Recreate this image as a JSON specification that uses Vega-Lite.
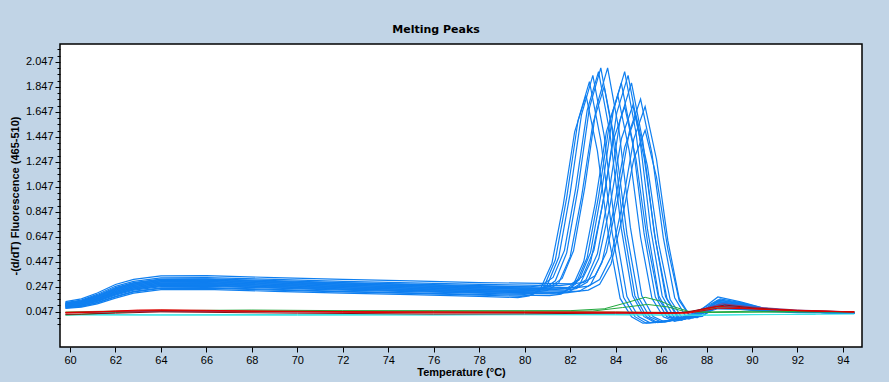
{
"$schema":"https://vega.github.io/schema/vega-lite/v6.json",
"width":802,"height":303,
"autosize":{"type":"none"},
"padding":{"left":60,"top":44,"right":27,"bottom":35},
"background":"#C1D4E6",
"title":{"text":"Melting Peaks","font":"DejaVu Sans","fontSize":11,"fontWeight":"bold","color":"black","anchor":"middle","frame":"group","dx":-25,"offset":9},
"datasets":{
"samples":[
{"s":"A1","t":59.8,"y":0.100},{"s":"A1","t":60.5,"y":0.116},{"s":"A1","t":61.2,"y":0.153},{"s":"A1","t":62,"y":0.21},{"s":"A1","t":62.8,"y":0.25},{"s":"A1","t":64,"y":0.278},{"s":"A1","t":66,"y":0.28},{"s":"A1","t":69,"y":0.265},{"s":"A1","t":72,"y":0.25},{"s":"A1","t":75,"y":0.238},{"s":"A1","t":78,"y":0.225},{"s":"A1","t":80.35,"y":0.215},{"s":"A1","t":80.85,"y":0.229},{"s":"A1","t":81.35,"y":0.294},{"s":"A1","t":81.85,"y":0.518},{"s":"A1","t":82.35,"y":1.036},{"s":"A1","t":82.85,"y":1.679},{"s":"A1","t":83.35,"y":2.0},{"s":"A1","t":83.85,"y":1.5},{"s":"A1","t":84.35,"y":0.72},{"s":"A1","t":84.85,"y":0.175},{"s":"A1","t":85.35,"y":0.008},{"s":"A1","t":85.85,"y":-0.04},{"s":"A1","t":86.8,"y":-0.01},{"s":"A1","t":87.5,"y":0.03},{"s":"A1","t":88.5,"y":0.12},{"s":"A1","t":89.5,"y":0.095},{"s":"A1","t":90.5,"y":0.065},{"s":"A1","t":92,"y":0.045},{"s":"A1","t":94.5,"y":0.035},
{"s":"A2","t":59.8,"y":0.110},{"s":"A2","t":60.5,"y":0.128},{"s":"A2","t":61.2,"y":0.169},{"s":"A2","t":62,"y":0.23},{"s":"A2","t":62.8,"y":0.27},{"s":"A2","t":64,"y":0.298},{"s":"A2","t":66,"y":0.30},{"s":"A2","t":69,"y":0.285},{"s":"A2","t":72,"y":0.27},{"s":"A2","t":75,"y":0.258},{"s":"A2","t":78,"y":0.245},{"s":"A2","t":80.65,"y":0.235},{"s":"A2","t":81.15,"y":0.249},{"s":"A2","t":81.65,"y":0.313},{"s":"A2","t":82.15,"y":0.535},{"s":"A2","t":82.65,"y":1.047},{"s":"A2","t":83.15,"y":1.682},{"s":"A2","t":83.65,"y":2.0},{"s":"A2","t":84.15,"y":1.5},{"s":"A2","t":84.65,"y":0.724},{"s":"A2","t":85.15,"y":0.176},{"s":"A2","t":85.65,"y":0.008},{"s":"A2","t":86.15,"y":-0.035},{"s":"A2","t":86.9,"y":-0.005},{"s":"A2","t":87.6,"y":0.04},{"s":"A2","t":88.5,"y":0.165},{"s":"A2","t":89.5,"y":0.125},{"s":"A2","t":90.5,"y":0.075},{"s":"A2","t":92,"y":0.05},{"s":"A2","t":94.5,"y":0.04},
{"s":"A3","t":59.8,"y":0.085},{"s":"A3","t":60.5,"y":0.098},{"s":"A3","t":61.2,"y":0.129},{"s":"A3","t":62,"y":0.18},{"s":"A3","t":62.8,"y":0.22},{"s":"A3","t":64,"y":0.248},{"s":"A3","t":66,"y":0.25},{"s":"A3","t":69,"y":0.235},{"s":"A3","t":72,"y":0.22},{"s":"A3","t":75,"y":0.208},{"s":"A3","t":78,"y":0.195},{"s":"A3","t":80.0,"y":0.185},{"s":"A3","t":80.5,"y":0.199},{"s":"A3","t":81.0,"y":0.262},{"s":"A3","t":81.5,"y":0.483},{"s":"A3","t":82.0,"y":0.992},{"s":"A3","t":82.5,"y":1.624},{"s":"A3","t":83.0,"y":1.94},{"s":"A3","t":83.5,"y":1.455},{"s":"A3","t":84.0,"y":0.698},{"s":"A3","t":84.5,"y":0.168},{"s":"A3","t":85.0,"y":0.008},{"s":"A3","t":85.5,"y":-0.04},{"s":"A3","t":86.5,"y":-0.02},{"s":"A3","t":87.4,"y":0.02},{"s":"A3","t":88.5,"y":0.1},{"s":"A3","t":89.5,"y":0.08},{"s":"A3","t":90.5,"y":0.06},{"s":"A3","t":92,"y":0.045},{"s":"A3","t":94.5,"y":0.035},
{"s":"A4","t":59.8,"y":0.078},{"s":"A4","t":60.5,"y":0.089},{"s":"A4","t":61.2,"y":0.117},{"s":"A4","t":62,"y":0.165},{"s":"A4","t":62.8,"y":0.205},{"s":"A4","t":64,"y":0.233},{"s":"A4","t":66,"y":0.235},{"s":"A4","t":69,"y":0.22},{"s":"A4","t":72,"y":0.205},{"s":"A4","t":75,"y":0.193},{"s":"A4","t":78,"y":0.18},{"s":"A4","t":79.85,"y":0.17},{"s":"A4","t":80.35,"y":0.184},{"s":"A4","t":80.85,"y":0.246},{"s":"A4","t":81.35,"y":0.462},{"s":"A4","t":81.85,"y":0.961},{"s":"A4","t":82.35,"y":1.58},{"s":"A4","t":82.85,"y":1.89},{"s":"A4","t":83.35,"y":1.418},{"s":"A4","t":83.85,"y":0.679},{"s":"A4","t":84.35,"y":0.163},{"s":"A4","t":84.85,"y":0.007},{"s":"A4","t":85.35,"y":-0.045},{"s":"A4","t":86.3,"y":-0.03},{"s":"A4","t":87.3,"y":0.01},{"s":"A4","t":88.5,"y":0.08},{"s":"A4","t":89.5,"y":0.07},{"s":"A4","t":90.5,"y":0.055},{"s":"A4","t":92,"y":0.045},{"s":"A4","t":94.5,"y":0.035},
{"s":"A5","t":59.8,"y":0.115},{"s":"A5","t":60.5,"y":0.134},{"s":"A5","t":61.2,"y":0.177},{"s":"A5","t":62,"y":0.24},{"s":"A5","t":62.8,"y":0.28},{"s":"A5","t":64,"y":0.308},{"s":"A5","t":66,"y":0.31},{"s":"A5","t":69,"y":0.295},{"s":"A5","t":72,"y":0.28},{"s":"A5","t":75,"y":0.268},{"s":"A5","t":78,"y":0.255},{"s":"A5","t":80.25,"y":0.245},{"s":"A5","t":80.75,"y":0.259},{"s":"A5","t":81.25,"y":0.321},{"s":"A5","t":81.75,"y":0.538},{"s":"A5","t":82.25,"y":1.039},{"s":"A5","t":82.75,"y":1.66},{"s":"A5","t":83.25,"y":1.97},{"s":"A5","t":83.75,"y":1.478},{"s":"A5","t":84.25,"y":0.714},{"s":"A5","t":84.75,"y":0.175},{"s":"A5","t":85.25,"y":0.007},{"s":"A5","t":85.75,"y":-0.04},{"s":"A5","t":86.7,"y":-0.01},{"s":"A5","t":87.5,"y":0.04},{"s":"A5","t":88.5,"y":0.14},{"s":"A5","t":89.5,"y":0.11},{"s":"A5","t":90.5,"y":0.07},{"s":"A5","t":92,"y":0.05},{"s":"A5","t":94.5,"y":0.04},
{"s":"A6","t":59.8,"y":0.095},{"s":"A6","t":60.5,"y":0.11},{"s":"A6","t":61.2,"y":0.145},{"s":"A6","t":62,"y":0.2},{"s":"A6","t":62.8,"y":0.24},{"s":"A6","t":64,"y":0.268},{"s":"A6","t":66,"y":0.27},{"s":"A6","t":69,"y":0.255},{"s":"A6","t":72,"y":0.24},{"s":"A6","t":75,"y":0.228},{"s":"A6","t":78,"y":0.215},{"s":"A6","t":80.5,"y":0.205},{"s":"A6","t":81.0,"y":0.218},{"s":"A6","t":81.5,"y":0.277},{"s":"A6","t":82.0,"y":0.485},{"s":"A6","t":82.5,"y":0.962},{"s":"A6","t":83.0,"y":1.554},{"s":"A6","t":83.5,"y":1.85},{"s":"A6","t":84.0,"y":1.388},{"s":"A6","t":84.5,"y":0.668},{"s":"A6","t":85.0,"y":0.162},{"s":"A6","t":85.5,"y":0.006},{"s":"A6","t":86.0,"y":-0.035},{"s":"A6","t":86.9,"y":-0.01},{"s":"A6","t":87.6,"y":0.03},{"s":"A6","t":88.5,"y":0.09},{"s":"A6","t":89.5,"y":0.075},{"s":"A6","t":90.5,"y":0.06},{"s":"A6","t":92,"y":0.045},{"s":"A6","t":94.5,"y":0.035},
{"s":"A7","t":59.8,"y":0.073},{"s":"A7","t":60.5,"y":0.083},{"s":"A7","t":61.2,"y":0.109},{"s":"A7","t":62,"y":0.155},{"s":"A7","t":62.8,"y":0.195},{"s":"A7","t":64,"y":0.223},{"s":"A7","t":66,"y":0.225},{"s":"A7","t":69,"y":0.21},{"s":"A7","t":72,"y":0.195},{"s":"A7","t":75,"y":0.183},{"s":"A7","t":78,"y":0.17},{"s":"A7","t":79.7,"y":0.16},{"s":"A7","t":80.2,"y":0.173},{"s":"A7","t":80.7,"y":0.231},{"s":"A7","t":81.2,"y":0.435},{"s":"A7","t":81.7,"y":0.905},{"s":"A7","t":82.2,"y":1.488},{"s":"A7","t":82.7,"y":1.78},{"s":"A7","t":83.2,"y":1.335},{"s":"A7","t":83.7,"y":0.639},{"s":"A7","t":84.2,"y":0.153},{"s":"A7","t":84.7,"y":0.006},{"s":"A7","t":85.2,"y":-0.045},{"s":"A7","t":86.2,"y":-0.035},{"s":"A7","t":87.2,"y":0.0},{"s":"A7","t":88.5,"y":0.07},{"s":"A7","t":89.5,"y":0.065},{"s":"A7","t":90.5,"y":0.05},{"s":"A7","t":92,"y":0.04},{"s":"A7","t":94.5,"y":0.035},
{"s":"B1","t":59.8,"y":0.105},{"s":"B1","t":60.5,"y":0.122},{"s":"B1","t":61.2,"y":0.161},{"s":"B1","t":62,"y":0.22},{"s":"B1","t":62.8,"y":0.26},{"s":"B1","t":64,"y":0.288},{"s":"B1","t":66,"y":0.29},{"s":"B1","t":69,"y":0.275},{"s":"B1","t":72,"y":0.26},{"s":"B1","t":75,"y":0.248},{"s":"B1","t":78,"y":0.235},{"s":"B1","t":81.4,"y":0.225},{"s":"B1","t":81.9,"y":0.239},{"s":"B1","t":82.4,"y":0.302},{"s":"B1","t":82.9,"y":0.522},{"s":"B1","t":83.4,"y":1.028},{"s":"B1","t":83.9,"y":1.656},{"s":"B1","t":84.4,"y":1.97},{"s":"B1","t":84.9,"y":1.478},{"s":"B1","t":85.4,"y":0.712},{"s":"B1","t":85.9,"y":0.174},{"s":"B1","t":86.4,"y":0.007},{"s":"B1","t":86.9,"y":-0.02},{"s":"B1","t":87.6,"y":0.03},{"s":"B1","t":88.5,"y":0.13},{"s":"B1","t":89.5,"y":0.1},{"s":"B1","t":90.5,"y":0.065},{"s":"B1","t":92,"y":0.05},{"s":"B1","t":94.5,"y":0.04},
{"s":"B2","t":59.8,"y":0.12},{"s":"B2","t":60.5,"y":0.14},{"s":"B2","t":61.2,"y":0.185},{"s":"B2","t":62,"y":0.25},{"s":"B2","t":62.8,"y":0.29},{"s":"B2","t":64,"y":0.318},{"s":"B2","t":66,"y":0.32},{"s":"B2","t":69,"y":0.305},{"s":"B2","t":72,"y":0.29},{"s":"B2","t":75,"y":0.278},{"s":"B2","t":78,"y":0.265},{"s":"B2","t":81.55,"y":0.255},{"s":"B2","t":82.05,"y":0.268},{"s":"B2","t":82.55,"y":0.329},{"s":"B2","t":83.05,"y":0.541},{"s":"B2","t":83.55,"y":1.03},{"s":"B2","t":84.05,"y":1.637},{"s":"B2","t":84.55,"y":1.94},{"s":"B2","t":85.05,"y":1.455},{"s":"B2","t":85.55,"y":0.705},{"s":"B2","t":86.05,"y":0.173},{"s":"B2","t":86.55,"y":0.007},{"s":"B2","t":87.05,"y":-0.015},{"s":"B2","t":87.7,"y":0.04},{"s":"B2","t":88.6,"y":0.15},{"s":"B2","t":89.5,"y":0.12},{"s":"B2","t":90.5,"y":0.075},{"s":"B2","t":92,"y":0.05},{"s":"B2","t":94.5,"y":0.04},
{"s":"B3","t":59.8,"y":0.09},{"s":"B3","t":60.5,"y":0.104},{"s":"B3","t":61.2,"y":0.137},{"s":"B3","t":62,"y":0.19},{"s":"B3","t":62.8,"y":0.23},{"s":"B3","t":64,"y":0.258},{"s":"B3","t":66,"y":0.26},{"s":"B3","t":69,"y":0.245},{"s":"B3","t":72,"y":0.23},{"s":"B3","t":75,"y":0.218},{"s":"B3","t":78,"y":0.205},{"s":"B3","t":81.25,"y":0.195},{"s":"B3","t":81.75,"y":0.208},{"s":"B3","t":82.25,"y":0.269},{"s":"B3","t":82.75,"y":0.481},{"s":"B3","t":83.25,"y":0.97},{"s":"B3","t":83.75,"y":1.577},{"s":"B3","t":84.25,"y":1.88},{"s":"B3","t":84.75,"y":1.41},{"s":"B3","t":85.25,"y":0.678},{"s":"B3","t":85.75,"y":0.164},{"s":"B3","t":86.25,"y":0.007},{"s":"B3","t":86.75,"y":-0.025},{"s":"B3","t":87.5,"y":0.02},{"s":"B3","t":88.5,"y":0.11},{"s":"B3","t":89.5,"y":0.09},{"s":"B3","t":90.5,"y":0.06},{"s":"B3","t":92,"y":0.045},{"s":"B3","t":94.5,"y":0.04},
{"s":"B4","t":59.8,"y":0.108},{"s":"B4","t":60.5,"y":0.125},{"s":"B4","t":61.2,"y":0.165},{"s":"B4","t":62,"y":0.225},{"s":"B4","t":62.8,"y":0.265},{"s":"B4","t":64,"y":0.293},{"s":"B4","t":66,"y":0.295},{"s":"B4","t":69,"y":0.28},{"s":"B4","t":72,"y":0.265},{"s":"B4","t":75,"y":0.253},{"s":"B4","t":78,"y":0.24},{"s":"B4","t":81.7,"y":0.23},{"s":"B4","t":82.2,"y":0.243},{"s":"B4","t":82.7,"y":0.303},{"s":"B4","t":83.2,"y":0.511},{"s":"B4","t":83.7,"y":0.989},{"s":"B4","t":84.2,"y":1.583},{"s":"B4","t":84.7,"y":1.88},{"s":"B4","t":85.2,"y":1.41},{"s":"B4","t":85.7,"y":0.681},{"s":"B4","t":86.2,"y":0.166},{"s":"B4","t":86.7,"y":0.006},{"s":"B4","t":87.2,"y":-0.01},{"s":"B4","t":87.8,"y":0.04},{"s":"B4","t":88.6,"y":0.14},{"s":"B4","t":89.5,"y":0.115},{"s":"B4","t":90.5,"y":0.07},{"s":"B4","t":92,"y":0.05},{"s":"B4","t":94.5,"y":0.04},
{"s":"B5","t":59.8,"y":0.088},{"s":"B5","t":60.5,"y":0.101},{"s":"B5","t":61.2,"y":0.133},{"s":"B5","t":62,"y":0.185},{"s":"B5","t":62.8,"y":0.225},{"s":"B5","t":64,"y":0.253},{"s":"B5","t":66,"y":0.255},{"s":"B5","t":69,"y":0.24},{"s":"B5","t":72,"y":0.225},{"s":"B5","t":75,"y":0.213},{"s":"B5","t":78,"y":0.2},{"s":"B5","t":81.4,"y":0.19},{"s":"B5","t":81.9,"y":0.202},{"s":"B5","t":82.4,"y":0.256},{"s":"B5","t":82.9,"y":0.445},{"s":"B5","t":83.4,"y":0.88},{"s":"B5","t":83.9,"y":1.42},{"s":"B5","t":84.4,"y":1.69},{"s":"B5","t":84.9,"y":1.268},{"s":"B5","t":85.4,"y":0.611},{"s":"B5","t":85.9,"y":0.148},{"s":"B5","t":86.4,"y":0.005},{"s":"B5","t":86.9,"y":-0.02},{"s":"B5","t":87.6,"y":0.02},{"s":"B5","t":88.5,"y":0.09},{"s":"B5","t":89.5,"y":0.075},{"s":"B5","t":90.5,"y":0.055},{"s":"B5","t":92,"y":0.045},{"s":"B5","t":94.5,"y":0.035},
{"s":"B6","t":59.8,"y":0.08},{"s":"B6","t":60.5,"y":0.092},{"s":"B6","t":61.2,"y":0.121},{"s":"B6","t":62,"y":0.17},{"s":"B6","t":62.8,"y":0.21},{"s":"B6","t":64,"y":0.238},{"s":"B6","t":66,"y":0.24},{"s":"B6","t":69,"y":0.225},{"s":"B6","t":72,"y":0.21},{"s":"B6","t":75,"y":0.198},{"s":"B6","t":78,"y":0.185},{"s":"B6","t":81.1,"y":0.175},{"s":"B6","t":81.6,"y":0.188},{"s":"B6","t":82.1,"y":0.246},{"s":"B6","t":82.6,"y":0.448},{"s":"B6","t":83.1,"y":0.913},{"s":"B6","t":83.6,"y":1.491},{"s":"B6","t":84.1,"y":1.78},{"s":"B6","t":84.6,"y":1.335},{"s":"B6","t":85.1,"y":0.641},{"s":"B6","t":85.6,"y":0.154},{"s":"B6","t":86.1,"y":0.006},{"s":"B6","t":86.6,"y":-0.03},{"s":"B6","t":87.4,"y":0.01},{"s":"B6","t":88.5,"y":0.08},{"s":"B6","t":89.5,"y":0.07},{"s":"B6","t":90.5,"y":0.055},{"s":"B6","t":92,"y":0.045},{"s":"B6","t":94.5,"y":0.035},
{"s":"C1","t":59.8,"y":0.113},{"s":"C1","t":60.5,"y":0.131},{"s":"C1","t":61.2,"y":0.173},{"s":"C1","t":62,"y":0.235},{"s":"C1","t":62.8,"y":0.275},{"s":"C1","t":64,"y":0.303},{"s":"C1","t":66,"y":0.305},{"s":"C1","t":69,"y":0.29},{"s":"C1","t":72,"y":0.275},{"s":"C1","t":75,"y":0.263},{"s":"C1","t":78,"y":0.25},{"s":"C1","t":82.3,"y":0.24},{"s":"C1","t":82.8,"y":0.252},{"s":"C1","t":83.3,"y":0.304},{"s":"C1","t":83.8,"y":0.487},{"s":"C1","t":84.3,"y":0.907},{"s":"C1","t":84.8,"y":1.429},{"s":"C1","t":85.3,"y":1.69},{"s":"C1","t":85.8,"y":1.268},{"s":"C1","t":86.3,"y":0.616},{"s":"C1","t":86.8,"y":0.152},{"s":"C1","t":87.3,"y":0.005},{"s":"C1","t":87.8,"y":0.01},{"s":"C1","t":88.6,"y":0.12},{"s":"C1","t":89.5,"y":0.1},{"s":"C1","t":90.5,"y":0.07},{"s":"C1","t":92,"y":0.05},{"s":"C1","t":94.5,"y":0.04},
{"s":"C2","t":59.8,"y":0.098},{"s":"C2","t":60.5,"y":0.113},{"s":"C2","t":61.2,"y":0.149},{"s":"C2","t":62,"y":0.205},{"s":"C2","t":62.8,"y":0.245},{"s":"C2","t":64,"y":0.273},{"s":"C2","t":66,"y":0.275},{"s":"C2","t":69,"y":0.26},{"s":"C2","t":72,"y":0.245},{"s":"C2","t":75,"y":0.233},{"s":"C2","t":78,"y":0.22},{"s":"C2","t":82.3,"y":0.21},{"s":"C2","t":82.8,"y":0.22},{"s":"C2","t":83.3,"y":0.267},{"s":"C2","t":83.8,"y":0.429},{"s":"C2","t":84.3,"y":0.803},{"s":"C2","t":84.8,"y":1.268},{"s":"C2","t":85.3,"y":1.5},{"s":"C2","t":85.8,"y":1.125},{"s":"C2","t":86.3,"y":0.546},{"s":"C2","t":86.8,"y":0.135},{"s":"C2","t":87.3,"y":0.004},{"s":"C2","t":87.8,"y":0.01},{"s":"C2","t":88.6,"y":0.1},{"s":"C2","t":89.5,"y":0.085},{"s":"C2","t":90.5,"y":0.06},{"s":"C2","t":92,"y":0.045},{"s":"C2","t":94.5,"y":0.035},
{"s":"C3","t":59.8,"y":0.093},{"s":"C3","t":60.5,"y":0.107},{"s":"C3","t":61.2,"y":0.141},{"s":"C3","t":62,"y":0.195},{"s":"C3","t":62.8,"y":0.235},{"s":"C3","t":64,"y":0.263},{"s":"C3","t":66,"y":0.265},{"s":"C3","t":69,"y":0.25},{"s":"C3","t":72,"y":0.235},{"s":"C3","t":75,"y":0.223},{"s":"C3","t":78,"y":0.21},{"s":"C3","t":81.9,"y":0.2},{"s":"C3","t":82.4,"y":0.211},{"s":"C3","t":82.9,"y":0.262},{"s":"C3","t":83.4,"y":0.441},{"s":"C3","t":83.9,"y":0.853},{"s":"C3","t":84.4,"y":1.364},{"s":"C3","t":84.9,"y":1.62},{"s":"C3","t":85.4,"y":1.215},{"s":"C3","t":85.9,"y":0.587},{"s":"C3","t":86.4,"y":0.144},{"s":"C3","t":86.9,"y":0.004},{"s":"C3","t":87.4,"y":-0.005},{"s":"C3","t":88.5,"y":0.09},{"s":"C3","t":89.5,"y":0.075},{"s":"C3","t":90.5,"y":0.055},{"s":"C3","t":92,"y":0.045},{"s":"C3","t":94.5,"y":0.035},
{"s":"C4","t":59.8,"y":0.128},{"s":"C4","t":60.5,"y":0.149},{"s":"C4","t":61.2,"y":0.197},{"s":"C4","t":62,"y":0.265},{"s":"C4","t":62.8,"y":0.305},{"s":"C4","t":64,"y":0.333},{"s":"C4","t":66,"y":0.335},{"s":"C4","t":69,"y":0.32},{"s":"C4","t":72,"y":0.305},{"s":"C4","t":75,"y":0.293},{"s":"C4","t":78,"y":0.28},{"s":"C4","t":82.1,"y":0.27},{"s":"C4","t":82.6,"y":0.282},{"s":"C4","t":83.1,"y":0.335},{"s":"C4","t":83.6,"y":0.522},{"s":"C4","t":84.1,"y":0.951},{"s":"C4","t":84.6,"y":1.484},{"s":"C4","t":85.1,"y":1.75},{"s":"C4","t":85.6,"y":1.313},{"s":"C4","t":86.1,"y":0.64},{"s":"C4","t":86.6,"y":0.159},{"s":"C4","t":87.1,"y":0.005},{"s":"C4","t":87.6,"y":0.0},{"s":"C4","t":88.5,"y":0.13},{"s":"C4","t":89.5,"y":0.105},{"s":"C4","t":90.5,"y":0.07},{"s":"C4","t":92,"y":0.05},{"s":"C4","t":94.5,"y":0.04},
{"s":"C5","t":59.8,"y":0.103},{"s":"C5","t":60.5,"y":0.119},{"s":"C5","t":61.2,"y":0.157},{"s":"C5","t":62,"y":0.215},{"s":"C5","t":62.8,"y":0.255},{"s":"C5","t":64,"y":0.283},{"s":"C5","t":66,"y":0.285},{"s":"C5","t":69,"y":0.27},{"s":"C5","t":72,"y":0.255},{"s":"C5","t":75,"y":0.243},{"s":"C5","t":78,"y":0.23},{"s":"C5","t":81.76,"y":0.22},{"s":"C5","t":82.26,"y":0.232},{"s":"C5","t":82.76,"y":0.285},{"s":"C5","t":83.26,"y":0.472},{"s":"C5","t":83.76,"y":0.901},{"s":"C5","t":84.26,"y":1.434},{"s":"C5","t":84.76,"y":1.7},{"s":"C5","t":85.26,"y":1.275},{"s":"C5","t":85.76,"y":0.617},{"s":"C5","t":86.26,"y":0.151},{"s":"C5","t":86.76,"y":0.005},{"s":"C5","t":87.26,"y":-0.01},{"s":"C5","t":88.5,"y":0.11},{"s":"C5","t":89.5,"y":0.09},{"s":"C5","t":90.5,"y":0.065},{"s":"C5","t":92,"y":0.045},{"s":"C5","t":94.5,"y":0.035}
],
"controls":[
{"s":"K1","k":"blank","t":59.8,"y":0.025},{"s":"K1","k":"blank","t":64,"y":0.022},{"s":"K1","k":"blank","t":70,"y":0.025},{"s":"K1","k":"blank","t":76,"y":0.022},{"s":"K1","k":"blank","t":80,"y":0.026},{"s":"K1","k":"blank","t":84,"y":0.024},{"s":"K1","k":"blank","t":86,"y":0.02},{"s":"K1","k":"blank","t":88,"y":0.018},{"s":"K1","k":"blank","t":90,"y":0.024},{"s":"K1","k":"blank","t":92.8,"y":0.026},
{"s":"K2","k":"blank","t":59.8,"y":0.02},{"s":"K2","k":"blank","t":70,"y":0.018},{"s":"K2","k":"blank","t":80,"y":0.022},{"s":"K2","k":"blank","t":88,"y":0.02},{"s":"K2","k":"blank","t":94.5,"y":0.028},
{"s":"G1","k":"neg","t":59.8,"y":0.02},{"s":"G1","k":"neg","t":60.5,"y":0.025},{"s":"G1","k":"neg","t":62,"y":0.04},{"s":"G1","k":"neg","t":64,"y":0.055},{"s":"G1","k":"neg","t":68,"y":0.06},{"s":"G1","k":"neg","t":72,"y":0.055},{"s":"G1","k":"neg","t":76,"y":0.055},{"s":"G1","k":"neg","t":80,"y":0.055},{"s":"G1","k":"neg","t":82,"y":0.055},{"s":"G1","k":"neg","t":83.5,"y":0.07},{"s":"G1","k":"neg","t":84.5,"y":0.12},{"s":"G1","k":"neg","t":85.3,"y":0.162},{"s":"G1","k":"neg","t":86,"y":0.13},{"s":"G1","k":"neg","t":86.5,"y":0.09},{"s":"G1","k":"neg","t":87.2,"y":0.05},{"s":"G1","k":"neg","t":88,"y":0.045},{"s":"G1","k":"neg","t":90,"y":0.05},{"s":"G1","k":"neg","t":94.5,"y":0.045},
{"s":"G2","k":"neg","t":59.8,"y":0.04},{"s":"G2","k":"neg","t":64,"y":0.05},{"s":"G2","k":"neg","t":70,"y":0.05},{"s":"G2","k":"neg","t":80,"y":0.05},{"s":"G2","k":"neg","t":83,"y":0.052},{"s":"G2","k":"neg","t":84.3,"y":0.08},{"s":"G2","k":"neg","t":85.4,"y":0.105},{"s":"G2","k":"neg","t":86.3,"y":0.085},{"s":"G2","k":"neg","t":87,"y":0.05},{"s":"G2","k":"neg","t":88,"y":0.04},{"s":"G2","k":"neg","t":92,"y":0.045},{"s":"G2","k":"neg","t":94.5,"y":0.045},
{"s":"O1","k":"ctrl4","t":59.8,"y":0.045},{"s":"O1","k":"ctrl4","t":64,"y":0.058},{"s":"O1","k":"ctrl4","t":70,"y":0.05},{"s":"O1","k":"ctrl4","t":80,"y":0.045},{"s":"O1","k":"ctrl4","t":84,"y":0.045},{"s":"O1","k":"ctrl4","t":87,"y":0.04},{"s":"O1","k":"ctrl4","t":88.5,"y":0.08},{"s":"O1","k":"ctrl4","t":90,"y":0.07},{"s":"O1","k":"ctrl4","t":92,"y":0.055},{"s":"O1","k":"ctrl4","t":94.5,"y":0.045},
{"s":"P1","k":"ctrl3","t":59.8,"y":0.04},{"s":"P1","k":"ctrl3","t":64,"y":0.05},{"s":"P1","k":"ctrl3","t":70,"y":0.045},{"s":"P1","k":"ctrl3","t":80,"y":0.04},{"s":"P1","k":"ctrl3","t":86,"y":0.035},{"s":"P1","k":"ctrl3","t":87.3,"y":0.045},{"s":"P1","k":"ctrl3","t":88.7,"y":0.11},{"s":"P1","k":"ctrl3","t":90,"y":0.085},{"s":"P1","k":"ctrl3","t":92,"y":0.06},{"s":"P1","k":"ctrl3","t":94.5,"y":0.045},
{"s":"D1","k":"ctrl2","t":59.8,"y":0.025},{"s":"D1","k":"ctrl2","t":62,"y":0.035},{"s":"D1","k":"ctrl2","t":64,"y":0.045},{"s":"D1","k":"ctrl2","t":70,"y":0.035},{"s":"D1","k":"ctrl2","t":76,"y":0.028},{"s":"D1","k":"ctrl2","t":80,"y":0.03},{"s":"D1","k":"ctrl2","t":84,"y":0.035},{"s":"D1","k":"ctrl2","t":87,"y":0.04},{"s":"D1","k":"ctrl2","t":88.8,"y":0.1},{"s":"D1","k":"ctrl2","t":90,"y":0.078},{"s":"D1","k":"ctrl2","t":92,"y":0.055},{"s":"D1","k":"ctrl2","t":94.5,"y":0.045},
{"s":"N2","k":"ntc","t":59.8,"y":0.035},{"s":"N2","k":"ntc","t":62,"y":0.05},{"s":"N2","k":"ntc","t":64,"y":0.056},{"s":"N2","k":"ntc","t":68,"y":0.05},{"s":"N2","k":"ntc","t":72,"y":0.042},{"s":"N2","k":"ntc","t":76,"y":0.038},{"s":"N2","k":"ntc","t":80,"y":0.04},{"s":"N2","k":"ntc","t":84,"y":0.038},{"s":"N2","k":"ntc","t":86,"y":0.033},{"s":"N2","k":"ntc","t":87.2,"y":0.035},{"s":"N2","k":"ntc","t":88.5,"y":0.075},{"s":"N2","k":"ntc","t":90,"y":0.07},{"s":"N2","k":"ntc","t":92,"y":0.058},{"s":"N2","k":"ntc","t":94.5,"y":0.045},
{"s":"N1","k":"ntc","t":59.8,"y":0.04},{"s":"N1","k":"ntc","t":61,"y":0.045},{"s":"N1","k":"ntc","t":62,"y":0.052},{"s":"N1","k":"ntc","t":63,"y":0.06},{"s":"N1","k":"ntc","t":64,"y":0.062},{"s":"N1","k":"ntc","t":66,"y":0.058},{"s":"N1","k":"ntc","t":68,"y":0.052},{"s":"N1","k":"ntc","t":70,"y":0.05},{"s":"N1","k":"ntc","t":74,"y":0.046},{"s":"N1","k":"ntc","t":78,"y":0.044},{"s":"N1","k":"ntc","t":82,"y":0.044},{"s":"N1","k":"ntc","t":84,"y":0.043},{"s":"N1","k":"ntc","t":85.5,"y":0.04},{"s":"N1","k":"ntc","t":86.5,"y":0.035},{"s":"N1","k":"ntc","t":87.2,"y":0.04},{"s":"N1","k":"ntc","t":88.5,"y":0.09},{"s":"N1","k":"ntc","t":89.5,"y":0.08},{"s":"N1","k":"ntc","t":90.5,"y":0.065},{"s":"N1","k":"ntc","t":92,"y":0.055},{"s":"N1","k":"ntc","t":93,"y":0.05},{"s":"N1","k":"ntc","t":94.5,"y":0.045}
]
},
"layer":[
{"data":{"name":"samples"},
 "mark":{"type":"line","strokeWidth":1.2,"color":"#0f7ff0","clip":true},
 "encoding":{
  "x":{"field":"t","type":"quantitative","scale":{"domain":[59.56,94.84],"nice":false,"zero":false},
       "axis":{"values":[60,62,64,66,68,70,72,74,76,78,80,82,84,86,88,90,92,94],"tickSize":5,"labelPadding":2,"title":"Temperature (°C)","titlePadding":1}},
  "y":{"field":"y","type":"quantitative","scale":{"domain":[-0.236,2.191],"nice":false,"zero":false},
       "axis":{"orient":"left","values":[0.047,0.247,0.447,0.647,0.847,1.047,1.247,1.447,1.647,1.847,2.047],"format":".3f","tickSize":5,"labelPadding":2,"title":"-(d/dT) Fluorescence (465-510)","titlePadding":5}},
  "detail":{"field":"s"}
 }},
{"data":{"name":"controls"},
 "mark":{"type":"line","strokeWidth":1,"clip":true},
 "encoding":{
  "x":{"field":"t","type":"quantitative"},
  "y":{"field":"y","type":"quantitative",
       "axis":{"orient":"left","labels":false,"title":null,"tickSize":3,"values":[-0.053,-0.003,0.097,0.147,0.197,0.297,0.347,0.397,0.497,0.547,0.597,0.697,0.747,0.797,0.897,0.947,0.997,1.097,1.147,1.197,1.297,1.347,1.397,1.497,1.547,1.597,1.697,1.747,1.797,1.897,1.947,1.997,2.097,2.147]}},
  "color":{"field":"k","type":"nominal","legend":null,
           "scale":{"domain":["blank","neg","ctrl4","ctrl3","ctrl2","ntc"],"range":["#38e4e4","#22a83c","#8c7a2c","#8a3f86","#8b1010","#e00000"]}},
  "detail":{"field":"s"}
 }}
],
"resolve":{"axis":{"y":"independent"}},
"config":{
 "view":{"fill":"white","stroke":"black","strokeWidth":1.5},
 "axis":{"grid":false,"domain":false,"tickColor":"black","labelColor":"black","labelFont":"Liberation Sans","labelFontSize":11,"titleFont":"Liberation Sans","titleFontSize":11,"titleFontWeight":"bold","titleColor":"black","labelFlush":false}
}
}
